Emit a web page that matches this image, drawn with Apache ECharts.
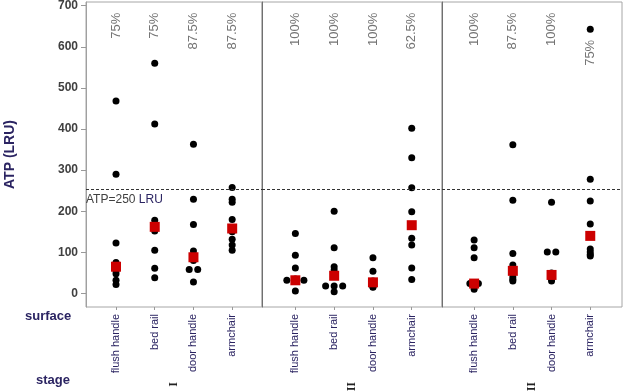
<!DOCTYPE html>
<html>
<head>
<meta charset="utf-8">
<script src="https://cdn.jsdelivr.net/npm/echarts@6/dist/echarts.min.js"></script>
<style>html,body{margin:0;padding:0;background:#fff}#c{width:623px;height:391px}</style>
</head>
<body>
<div id="c"></div>
<script>
// ---- data ----
const surfaces = ['flush handle', 'bed rail', 'door handle', 'armchair'];
const stages = ['I', 'II', 'III'];
const stageI = [
  [468, 290, 123, 75, 55, 48, 32, 22],
  [560, 412, 178, 165, 152, 105, 61, 38],
  [363, 229, 168, 103, 80, 58, 58, 28],
  [258, 229, 222, 180, 150, 132, 118, 105]
];
const stageII = [
  [146, 93, 62, 35, 32, 32, 32, 6],
  [200, 111, 65, 57, 18, 18, 18, 4],
  [87, 54, 30, 27, 25, 20, 16, 15],
  [402, 330, 257, 199, 134, 118, 62, 34]
];
const stageIII = [
  [130, 111, 87, 24, 24, 20, 16, 10],
  [362, 227, 97, 69, 55, 40, 34, 30],
  [222, 101, 101, 50, 45, 40, 35, 30],
  [643, 278, 225, 169, 108, 101, 95, 91]
];
const centreI = [65, 162, 88, 158];
const centreII = [32, 43, 27, 166];
const centreIII = [24, 55, 45, 140];
const passI = ['75%', '75%', '87.5%', '87.5%'];
const passII = ['100%', '100%', '100%', '62.5%'];
const passIII = ['100%', '87.5%', '100%', '75%'];
const yTicks = [0, 100, 200, 300, 400, 500, 600, 700];
const thresholdLine = 253;
const thresholdText = 'ATP=250';

// ---- build ----
const navy = '#2B2462';
const stageVals = [stageI, stageII, stageIII];
const centres = [centreI, centreII, centreIII];
const passes = [passI, passII, passIII];
const grids = [
  {left: 86, width: 176, top: 2, height: 305},
  {left: 262, width: 180, top: 2, height: 305},
  {left: 442, width: 180, top: 2, height: 305}
];
const xRanges = [[-0.775, 3.77], [-0.86, 3.78], [-0.83, 3.82]];

function spread(vals, i) {
  const counts = {}, seen = {};
  vals.forEach(v => counts[v] = (counts[v] || 0) + 1);
  return vals.map(v => {
    const k = counts[v];
    const j = seen[v] || 0;
    seen[v] = j + 1;
    return [i + (j - (k - 1) / 2) * 0.22, v];
  });
}

const xAxis = [], yAxis = [], series = [];
stageVals.forEach((sv, g) => {
  xAxis.push({
    type: 'value', gridIndex: g, min: xRanges[g][0], max: xRanges[g][1],
    splitLine: {show: false},
    axisLine: {show: false, onZero: false},
    axisTick: {show: true, customValues: [0, 1, 2, 3], length: 3, lineStyle: {color: '#999'}},
    axisLabel: {
      show: true, customValues: [0, 1, 2, 3], rotate: 90, margin: 7,
      formatter: v => surfaces[Math.round(v)] || '',
      color: navy, fontSize: 11, fontFamily: 'Liberation Sans'
    },
    name: stages[g], nameLocation: 'middle', nameGap: 75, nameRotate: 90,
    nameTextStyle: {fontFamily: 'Liberation Serif', fontWeight: 'bold', fontSize: 12, color: '#222'}
  });
  yAxis.push({
    type: 'value', gridIndex: g, min: -33, max: 709,
    splitLine: {show: false},
    axisLine: {show: true, onZero: false, lineStyle: {color: g === 0 ? '#a0a0a0' : '#707070'}},
    axisTick: {show: g === 0, customValues: yTicks, length: 5, lineStyle: {color: '#999'}},
    axisLabel: {
      show: g === 0, customValues: yTicks, margin: 8,
      color: '#404040', fontWeight: 'bold', fontSize: 12, fontFamily: 'Liberation Sans'
    },
    name: g === 0 ? 'ATP (LRU)' : '', nameLocation: 'middle', nameGap: 69,
    nameTextStyle: {color: navy, fontWeight: 'bold', fontSize: 14, fontFamily: 'Liberation Sans'}
  });
  const pts = [];
  sv.forEach((vals, i) => spread(vals, i).forEach(p => pts.push(p)));
  series.push({
    type: 'scatter', xAxisIndex: g, yAxisIndex: g, data: pts,
    symbol: 'circle', symbolSize: 7, itemStyle: {color: '#000', opacity: 1}, z: 3,
    silent: true,
    markLine: {
      silent: true, symbol: 'none', animation: false,
      lineStyle: {type: [3, 2], color: '#333', width: 1},
      data: [{yAxis: thresholdLine}],
      label: g === 0 ? {
        show: true, position: 'insideStartBottom', distance: [0, 4],
        formatter: '{a|' + thresholdText + '} {b|LRU}',
        rich: {
          a: {color: '#404040', fontSize: 12, fontFamily: 'Liberation Sans'},
          b: {color: navy, fontSize: 12, fontFamily: 'Liberation Sans'}
        }
      } : {show: false}
    }
  });
  series.push({
    type: 'scatter', xAxisIndex: g, yAxisIndex: g,
    data: centres[g].map((v, i) => [i, v]),
    symbol: 'rect', symbolSize: 10, itemStyle: {color: '#CC0000', opacity: 1}, z: 4, silent: true
  });
  series.push({
    type: 'scatter', xAxisIndex: g, yAxisIndex: g,
    data: passes[g].map((t, i) => {
      const mx = Math.max.apply(null, sv[i]);
      return {value: [i, mx > 600 ? mx - 26 : 683], name: t};
    }),
    symbolSize: 0, silent: true, z: 5,
    label: {
      show: true, position: 'inside', rotate: 90, align: 'right', verticalAlign: 'middle',
      formatter: p => p.name,
      color: '#505050', fontSize: 13, fontFamily: 'Liberation Sans'
    }
  });
});

const chart = echarts.init(document.getElementById('c'), null, {renderer: 'canvas'});
chart.setOption({
  animation: false,
  grid: grids.map(gr => Object.assign({show: true, borderColor: '#a6a6a6', borderWidth: 1, backgroundColor: 'transparent', containLabel: false, outerBoundsMode: 'none'}, gr)),
  xAxis, yAxis, series,
  graphic: [
    {type: 'text', left: 25, top: 310, style: {text: 'surface', fill: navy, font: 'bold 13px "Liberation Sans"'}},
    {type: 'text', left: 36, top: 374, style: {text: 'stage', fill: navy, font: 'bold 13px "Liberation Sans"'}}
  ]
});
</script>
</body>
</html>
